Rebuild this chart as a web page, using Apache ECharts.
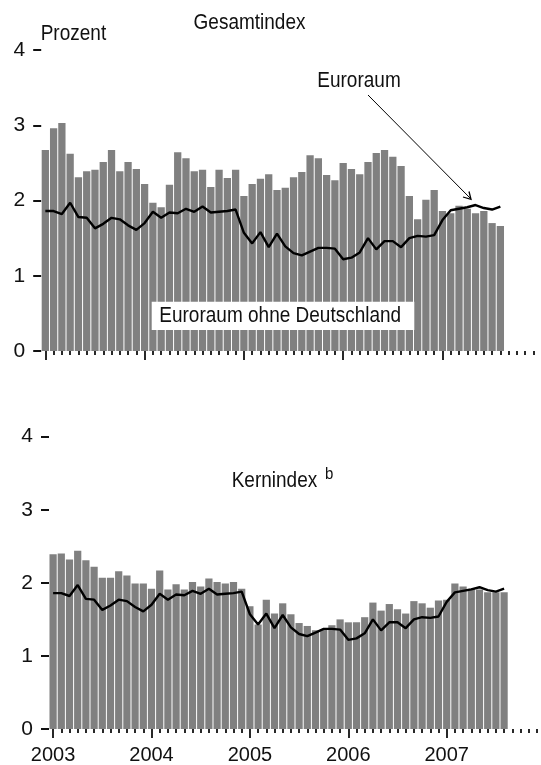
<!DOCTYPE html>
<html>
<head>
<meta charset="utf-8">
<script src="https://cdn.jsdelivr.net/npm/echarts@6/dist/echarts.min.js"></script>
<style>
html,body{margin:0;padding:0;background:#fff;}
#chart{width:541px;height:765px;}
</style>
</head>
<body>
<div id="chart"></div>
<script>
// ---- data ----
const years = ['2003', '2004', '2005', '2006', '2007'];
const monthNames = ['01','02','03','04','05','06','07','08','09','10','11','12'];
const yTicks = [0, 1, 2, 3, 4];

// Gesamtindex: Euroraum ohne Deutschland (bars), Jan 2003 - Aug 2007
const gesamtOhneDE = [
  2.67, 2.96, 3.03, 2.62, 2.31, 2.39, 2.41, 2.51, 2.67, 2.39, 2.51, 2.42,
  2.22, 1.97, 1.91, 2.21, 2.64, 2.56, 2.39, 2.41, 2.18, 2.41, 2.30, 2.41,
  2.06, 2.22, 2.29, 2.35, 2.14, 2.17, 2.31, 2.38, 2.60, 2.56, 2.34, 2.27,
  2.50, 2.42, 2.35, 2.51, 2.63, 2.67, 2.58, 2.46, 2.06, 1.75, 2.01, 2.14,
  1.86, 1.83, 1.93, 1.89, 1.83, 1.86, 1.70, 1.66
];
// Euroraum (line), drawn in both panels as in the source
const euroraum = [
  1.86, 1.86, 1.82, 1.97, 1.78, 1.77, 1.63, 1.69, 1.77, 1.75, 1.67, 1.61,
  1.70, 1.85, 1.77, 1.84, 1.83, 1.89, 1.85, 1.92, 1.84, 1.85, 1.86, 1.88,
  1.57, 1.43, 1.58, 1.38, 1.56, 1.39, 1.30, 1.27, 1.32, 1.37, 1.37, 1.36,
  1.22, 1.24, 1.31, 1.50, 1.35, 1.46, 1.46, 1.38, 1.50, 1.53, 1.52, 1.54,
  1.74, 1.87, 1.89, 1.91, 1.94, 1.90, 1.88, 1.92
];
// Kernindex: Euroraum ohne Deutschland (bars)
const kernOhneDE = [
  2.39, 2.40, 2.32, 2.44, 2.31, 2.22, 2.07, 2.07, 2.16, 2.10, 1.99, 1.99,
  1.92, 2.17, 1.91, 1.98, 1.91, 2.01, 1.95, 2.06, 2.01, 1.99, 2.01, 1.92,
  1.68, 1.43, 1.77, 1.58, 1.72, 1.57, 1.45, 1.41, 1.35, 1.36, 1.42, 1.50,
  1.46, 1.46, 1.53, 1.73, 1.62, 1.71, 1.64, 1.58, 1.75, 1.72, 1.66, 1.76,
  1.77, 1.99, 1.95, 1.92, 1.91, 1.87, 1.87, 1.87
];

const months = [];
years.forEach(y => monthNames.forEach(m => months.push(y + '-' + m)));

// ---- chart ----
const FONT = '"Liberation Sans", Arial, sans-serif';
const INK = '#111';
const SY = 1.15; // vertical stretch of the source lettering
const chart = echarts.init(document.getElementById('chart'));

function xAxes(g, withLabels) {
  return [
    {
      type: 'category', gridIndex: g, position: 'bottom', data: months, boundaryGap: true,
      axisLine: { show: false },
      axisTick: { show: true, alignWithLabel: true, interval: i => i % 12 !== 0, length: 4,
                  lineStyle: { color: INK, width: 1.8 } },
      axisLabel: { show: false }, splitLine: { show: false }
    },
    {
      type: 'category', gridIndex: g, position: 'bottom', offset: 0, data: months, boundaryGap: true,
      axisLine: { show: false },
      axisTick: { show: true, alignWithLabel: true, interval: i => i % 12 === 0, length: 9,
                  lineStyle: { color: INK, width: 1.8 } },
      axisLabel: { show: withLabels, interval: i => i % 12 === 0, formatter: v => v.slice(0, 4),
                   fontSize: 20, fontFamily: FONT, color: INK, margin: 16 },
      splitLine: { show: false }
    }
  ];
}
function yAxis(g) {
  return {
    type: 'value', gridIndex: g, min: yTicks[0], max: yTicks[yTicks.length - 1], interval: 1,
    axisLine: { show: false }, splitLine: { show: false },
    axisTick: { show: true, length: 8, lineStyle: { color: INK, width: 2 } },
    axisLabel: { fontSize: 21, fontFamily: FONT, color: INK, margin: 16 }
  };
}
function txt(text, x, y, size, align) {
  return { type: 'text', x: x, y: y, z: 101, scaleY: SY,
    style: { text: text, font: size + 'px ' + FONT, fill: INK, align: align, verticalAlign: 'middle' } };
}

const option = {
  animation: false,
  backgroundColor: '#fff',
  grid: [
    { left: 41.2, top: 50, width: 496.4, height: 301 },
    { left: 49, top: 436.7, width: 496.4, height: 293.3 }
  ],
  xAxis: [...xAxes(0, false), ...xAxes(1, true)],
  yAxis: [yAxis(0), yAxis(1)],
  series: [
    { type: 'bar', xAxisIndex: 0, yAxisIndex: 0, data: gesamtOhneDE, barCategoryGap: '12%',
      itemStyle: { color: '#808080' } },
    { type: 'line', xAxisIndex: 0, yAxisIndex: 0, data: euroraum, symbol: 'none',
      lineStyle: { color: '#000', width: 2.4 }, z: 5 },
    { type: 'bar', xAxisIndex: 2, yAxisIndex: 1, data: kernOhneDE, barCategoryGap: '12%',
      itemStyle: { color: '#808080' } },
    { type: 'line', xAxisIndex: 2, yAxisIndex: 1, data: euroraum, symbol: 'none',
      lineStyle: { color: '#000', width: 2.4 }, z: 5 }
  ],
  graphic: [
    txt('Gesamtindex', 249.5, 22.5, 19, 'center'),
    txt('Prozent', 40.7, 34, 19, 'left'),
    txt('Euroraum', 359, 81, 19, 'center'),
    { type: 'polyline', z: 100, shape: { points: [[368, 95], [471, 199]] },
      style: { stroke: '#000', lineWidth: 1, fill: null } },
    { type: 'polyline', z: 100, shape: { points: [[463, 197], [471, 199.3], [469, 191.5]] },
      style: { stroke: '#000', lineWidth: 1.3, fill: null } },
    { type: 'rect', z: 100, shape: { x: 151.7, y: 301.7, width: 262.6, height: 28.3 },
      style: { fill: '#fff' } },
    txt('Euroraum ohne Deutschland', 159.3, 316, 19, 'left'),
    txt('Kernindex', 231.7, 480.5, 19, 'left'),
    txt('b', 325, 474, 15, 'left')
  ]
};
chart.setOption(option);
</script>
</body>
</html>
